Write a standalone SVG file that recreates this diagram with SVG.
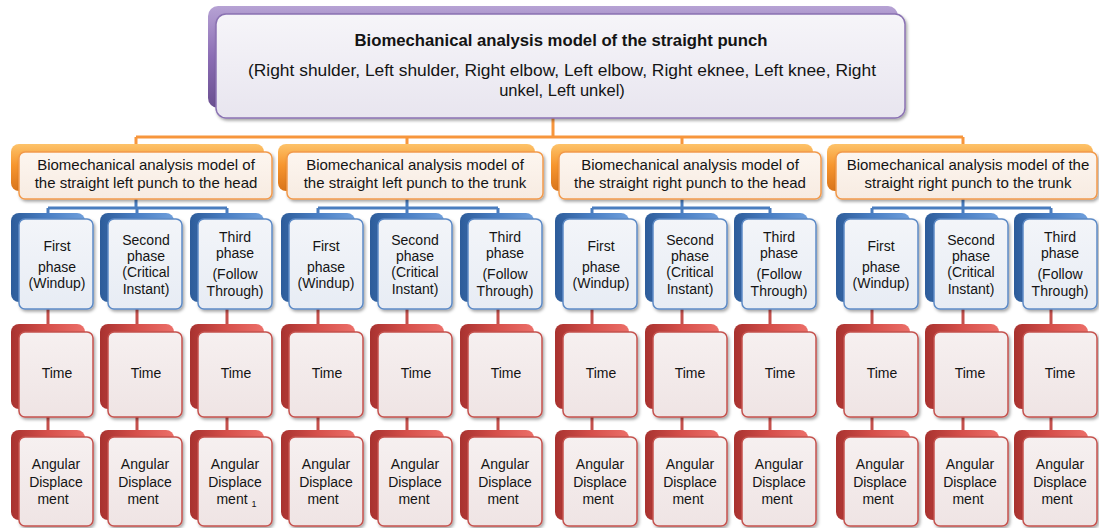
<svg xmlns="http://www.w3.org/2000/svg" width="1099" height="528" viewBox="0 0 1099 528">
<defs>
<linearGradient id="gPur" x1="0" y1="0" x2="0" y2="1"><stop offset="0" stop-color="#b6a2d4"/><stop offset="0.5" stop-color="#8b6db4"/><stop offset="1" stop-color="#6a4f90"/></linearGradient>
<linearGradient id="gOr" x1="0" y1="0" x2="0" y2="1"><stop offset="0" stop-color="#fdc36a"/><stop offset="0.45" stop-color="#f7962f"/><stop offset="1" stop-color="#d9741a"/></linearGradient>
<linearGradient id="gBl" x1="0" y1="0" x2="1" y2="0"><stop offset="0" stop-color="#2d5c9a"/><stop offset="0.5" stop-color="#4a7fc4"/><stop offset="1" stop-color="#6f9fdc"/></linearGradient>
<linearGradient id="gRd" x1="0" y1="0" x2="1" y2="0"><stop offset="0" stop-color="#a8322f"/><stop offset="0.5" stop-color="#d6504b"/><stop offset="1" stop-color="#ec6f69"/></linearGradient>
<linearGradient id="fPur" x1="0" y1="0" x2="0" y2="1"><stop offset="0" stop-color="#f6f5f9"/><stop offset="1" stop-color="#e8e5ef"/></linearGradient>
<linearGradient id="fOr" x1="0" y1="0" x2="0" y2="1"><stop offset="0" stop-color="#fdf6f0"/><stop offset="1" stop-color="#f7ebe1"/></linearGradient>
<linearGradient id="fBl" x1="0" y1="0" x2="0" y2="1"><stop offset="0" stop-color="#f3f5f9"/><stop offset="1" stop-color="#e7ecf4"/></linearGradient>
<linearGradient id="fRd" x1="0" y1="0" x2="0" y2="1"><stop offset="0" stop-color="#f6f0f0"/><stop offset="1" stop-color="#efe4e4"/></linearGradient>
<filter id="sh" x="-10%" y="-10%" width="130%" height="130%"><feDropShadow dx="1.5" dy="2" stdDeviation="1.5" flood-color="#000" flood-opacity="0.35"/></filter>
</defs>
<style>
text{font-family:"Liberation Sans",Arial,sans-serif;fill:#141414;text-anchor:middle}
.t{font-size:14px}
.l2{font-size:15px}
.ttl{font-size:16px;font-weight:bold}
.sub{font-size:16.5px}
.bp{fill:url(#gPur)}
.bo{fill:url(#gOr)}
.bb{fill:url(#gBl)}
.br{fill:url(#gRd)}
.fp{fill:url(#fPur);stroke:#8a72b2;stroke-width:1.5;filter:url(#sh)}
.fo{fill:url(#fOr);stroke:#f29a4c;stroke-width:1.5;filter:url(#sh)}
.fb{fill:url(#fBl);stroke:#5d8ac6;stroke-width:1.5;filter:url(#sh)}
.fr{fill:url(#fRd);stroke:#c5524e;stroke-width:1.5;filter:url(#sh)}
.co{stroke:#f7963c;stroke-width:3;fill:none}
.cb{stroke:#4a7dbf;stroke-width:3;fill:none}
.cr{stroke:#c4504c;stroke-width:3;fill:none}
</style>

<g id="connectors">
<path class="co" d="M553,118V137M136,137H963M136,137V146M407,137V146M682,137V146M963,137V146"/>
<path class="cb" d="M136,199V208M48,208H227M48,208V215M137,208V215M227,208V215"/>
<path class="cb" d="M407,199V208M318,208H498M318,208V215M407,208V215M498,208V215"/>
<path class="cb" d="M682,199V208M592,208H770M592,208V215M682,208V215M770,208V215"/>
<path class="cb" d="M963,199V208M872,208H1051M872,208V215M963,208V215M1051,208V215"/>
<path class="cr" d="M48,309V326M137,309V326M227,309V326M318,309V326M407,309V326M498,309V326M592,309V326M682,309V326M770,309V326M872,309V326M963,309V326M1051,309V326"/>
<path class="cr" d="M48,417V432M137,417V432M227,417V432M318,417V432M407,417V432M498,417V432M592,417V432M682,417V432M770,417V432M872,417V432M963,417V432M1051,417V432"/>
</g>

<g id="root">
<rect class="bp" x="208" y="6" width="690" height="102" rx="10"/>
<rect class="fp" x="216" y="14" width="689" height="104" rx="10"/>
<text class="ttl" x="561" y="46" textLength="413" lengthAdjust="spacingAndGlyphs">Biomechanical analysis model of the straight punch</text>
<text class="sub" x="562" y="76" textLength="628" lengthAdjust="spacingAndGlyphs">(Right shulder, Left shulder, Right elbow, Left elbow, Right eknee, Left knee, Right</text>
<text class="sub" x="562" y="96">unkel, Left unkel)</text>
</g>

<g id="model-left-head">
<rect class="bo" x="11" y="144" width="253" height="47" rx="8"/>
<rect class="fo" x="19" y="152" width="253" height="47" rx="6"/>
<text class="l2" x="146" y="170">Biomechanical analysis model of</text>
<text class="l2" x="146" y="188">the straight left punch to the head</text>
</g>
<g id="model-left-trunk">
<rect class="bo" x="278" y="144" width="257" height="47" rx="8"/>
<rect class="fo" x="287" y="152" width="256" height="47" rx="6"/>
<text class="l2" x="415" y="170">Biomechanical analysis model of</text>
<text class="l2" x="415" y="188">the straight left punch to the trunk</text>
</g>
<g id="model-right-head">
<rect class="bo" x="551" y="144" width="262" height="47" rx="8"/>
<rect class="fo" x="559" y="152" width="262" height="47" rx="6"/>
<text class="l2" x="690" y="170">Biomechanical analysis model of</text>
<text class="l2" x="690" y="188">the straight right punch to the head</text>
</g>
<g id="model-right-trunk">
<rect class="bo" x="827" y="144" width="266" height="47" rx="8"/>
<rect class="fo" x="836" y="152" width="261" height="47" rx="6"/>
<text class="l2" x="968" y="170">Biomechanical analysis model of the</text>
<text class="l2" x="968" y="188">straight right punch to the trunk</text>
</g>

<!-- phases -->
<g id="phase1-g1"><rect class="bb" x="11" y="213" width="74" height="89" rx="8"/><rect class="fb" x="19" y="219" width="74" height="90" rx="6"/><text class="t" x="57" y="251">First</text><text class="t" x="57" y="272">phase</text><text class="t" x="57" y="288">(Windup)</text></g>
<g id="phase2-g1"><rect class="bb" x="100" y="213" width="74" height="89" rx="8"/><rect class="fb" x="108" y="219" width="74" height="90" rx="6"/><text class="t" x="146" y="245">Second</text><text class="t" x="146" y="261">phase</text><text class="t" x="146" y="277">(Critical</text><text class="t" x="146" y="294">Instant)</text></g>
<g id="phase3-g1"><rect class="bb" x="190" y="213" width="74" height="89" rx="8"/><rect class="fb" x="198" y="219" width="74" height="90" rx="6"/><text class="t" x="235" y="242">Third</text><text class="t" x="235" y="258">phase</text><text class="t" x="235" y="279">(Follow</text><text class="t" x="235" y="296">Through)</text></g>

<g id="phase1-g2"><rect class="bb" x="281" y="213" width="74" height="89" rx="8"/><rect class="fb" x="289" y="219" width="74" height="90" rx="6"/><text class="t" x="326" y="251">First</text><text class="t" x="326" y="272">phase</text><text class="t" x="326" y="288">(Windup)</text></g>
<g id="phase2-g2"><rect class="bb" x="370" y="213" width="74" height="89" rx="8"/><rect class="fb" x="378" y="219" width="74" height="90" rx="6"/><text class="t" x="415" y="245">Second</text><text class="t" x="415" y="261">phase</text><text class="t" x="415" y="277">(Critical</text><text class="t" x="415" y="294">Instant)</text></g>
<g id="phase3-g2"><rect class="bb" x="460" y="213" width="74" height="89" rx="8"/><rect class="fb" x="468" y="219" width="74" height="90" rx="6"/><text class="t" x="505" y="242">Third</text><text class="t" x="505" y="258">phase</text><text class="t" x="505" y="279">(Follow</text><text class="t" x="505" y="296">Through)</text></g>

<g id="phase1-g3"><rect class="bb" x="555" y="213" width="74" height="89" rx="8"/><rect class="fb" x="563" y="219" width="74" height="90" rx="6"/><text class="t" x="601" y="251">First</text><text class="t" x="601" y="272">phase</text><text class="t" x="601" y="288">(Windup)</text></g>
<g id="phase2-g3"><rect class="bb" x="645" y="213" width="74" height="89" rx="8"/><rect class="fb" x="653" y="219" width="74" height="90" rx="6"/><text class="t" x="690" y="245">Second</text><text class="t" x="690" y="261">phase</text><text class="t" x="690" y="277">(Critical</text><text class="t" x="690" y="294">Instant)</text></g>
<g id="phase3-g3"><rect class="bb" x="734" y="213" width="74" height="89" rx="8"/><rect class="fb" x="742" y="219" width="74" height="90" rx="6"/><text class="t" x="779" y="242">Third</text><text class="t" x="779" y="258">phase</text><text class="t" x="779" y="279">(Follow</text><text class="t" x="779" y="296">Through)</text></g>

<g id="phase1-g4"><rect class="bb" x="836" y="213" width="74" height="89" rx="8"/><rect class="fb" x="844" y="219" width="74" height="90" rx="6"/><text class="t" x="881" y="251">First</text><text class="t" x="881" y="272">phase</text><text class="t" x="881" y="288">(Windup)</text></g>
<g id="phase2-g4"><rect class="bb" x="925" y="213" width="74" height="89" rx="8"/><rect class="fb" x="934" y="219" width="74" height="90" rx="6"/><text class="t" x="971" y="245">Second</text><text class="t" x="971" y="261">phase</text><text class="t" x="971" y="277">(Critical</text><text class="t" x="971" y="294">Instant)</text></g>
<g id="phase3-g4"><rect class="bb" x="1014" y="213" width="74" height="89" rx="8"/><rect class="fb" x="1023" y="219" width="74" height="90" rx="6"/><text class="t" x="1060" y="242">Third</text><text class="t" x="1060" y="258">phase</text><text class="t" x="1060" y="279">(Follow</text><text class="t" x="1060" y="296">Through)</text></g>

<!-- time -->
<g id="time-1"><rect class="br" x="11" y="324" width="74" height="85" rx="8"/><rect class="fr" x="19" y="332" width="74" height="85" rx="6"/><text class="t" x="57" y="378">Time</text></g>
<g id="time-2"><rect class="br" x="100" y="324" width="74" height="85" rx="8"/><rect class="fr" x="108" y="332" width="74" height="85" rx="6"/><text class="t" x="146" y="378">Time</text></g>
<g id="time-3"><rect class="br" x="190" y="324" width="74" height="85" rx="8"/><rect class="fr" x="198" y="332" width="74" height="85" rx="6"/><text class="t" x="236" y="378">Time</text></g>
<g id="time-4"><rect class="br" x="281" y="324" width="74" height="85" rx="8"/><rect class="fr" x="289" y="332" width="74" height="85" rx="6"/><text class="t" x="327" y="378">Time</text></g>
<g id="time-5"><rect class="br" x="370" y="324" width="74" height="85" rx="8"/><rect class="fr" x="378" y="332" width="74" height="85" rx="6"/><text class="t" x="416" y="378">Time</text></g>
<g id="time-6"><rect class="br" x="460" y="324" width="74" height="85" rx="8"/><rect class="fr" x="468" y="332" width="74" height="85" rx="6"/><text class="t" x="506" y="378">Time</text></g>
<g id="time-7"><rect class="br" x="555" y="324" width="74" height="85" rx="8"/><rect class="fr" x="563" y="332" width="74" height="85" rx="6"/><text class="t" x="601" y="378">Time</text></g>
<g id="time-8"><rect class="br" x="645" y="324" width="74" height="85" rx="8"/><rect class="fr" x="653" y="332" width="74" height="85" rx="6"/><text class="t" x="690" y="378">Time</text></g>
<g id="time-9"><rect class="br" x="734" y="324" width="74" height="85" rx="8"/><rect class="fr" x="742" y="332" width="74" height="85" rx="6"/><text class="t" x="780" y="378">Time</text></g>
<g id="time-10"><rect class="br" x="836" y="324" width="74" height="85" rx="8"/><rect class="fr" x="844" y="332" width="74" height="85" rx="6"/><text class="t" x="882" y="378">Time</text></g>
<g id="time-11"><rect class="br" x="925" y="324" width="74" height="85" rx="8"/><rect class="fr" x="934" y="332" width="74" height="85" rx="6"/><text class="t" x="970" y="378">Time</text></g>
<g id="time-12"><rect class="br" x="1014" y="324" width="74" height="85" rx="8"/><rect class="fr" x="1023" y="332" width="74" height="85" rx="6"/><text class="t" x="1060" y="378">Time</text></g>

<!-- angular displacement -->
<g id="ang-1"><rect class="br" x="11" y="430" width="74" height="90" rx="8"/><rect class="fr" x="19" y="437" width="74" height="89" rx="6"/><text class="t" x="56" y="469">Angular</text><text class="t" x="56" y="487">Displace</text><text class="t" x="53" y="504">ment</text></g>
<g id="ang-2"><rect class="br" x="100" y="430" width="74" height="90" rx="8"/><rect class="fr" x="108" y="437" width="74" height="89" rx="6"/><text class="t" x="145" y="469">Angular</text><text class="t" x="145" y="487">Displace</text><text class="t" x="143" y="504">ment</text></g>
<g id="ang-3"><rect class="br" x="190" y="430" width="74" height="90" rx="8"/><rect class="fr" x="198" y="437" width="74" height="89" rx="6"/><text class="t" x="235" y="469">Angular</text><text class="t" x="235" y="487">Displace</text><text class="t" x="232" y="504">ment</text><text x="254" y="507" style="font-size:9px">1</text></g>
<g id="ang-4"><rect class="br" x="281" y="430" width="74" height="90" rx="8"/><rect class="fr" x="289" y="437" width="74" height="89" rx="6"/><text class="t" x="326" y="469">Angular</text><text class="t" x="326" y="487">Displace</text><text class="t" x="323" y="504">ment</text></g>
<g id="ang-5"><rect class="br" x="370" y="430" width="74" height="90" rx="8"/><rect class="fr" x="378" y="437" width="74" height="89" rx="6"/><text class="t" x="415" y="469">Angular</text><text class="t" x="415" y="487">Displace</text><text class="t" x="414" y="504">ment</text></g>
<g id="ang-6"><rect class="br" x="460" y="430" width="74" height="90" rx="8"/><rect class="fr" x="468" y="437" width="74" height="89" rx="6"/><text class="t" x="505" y="469">Angular</text><text class="t" x="505" y="487">Displace</text><text class="t" x="503" y="504">ment</text></g>
<g id="ang-7"><rect class="br" x="555" y="430" width="74" height="90" rx="8"/><rect class="fr" x="563" y="437" width="74" height="89" rx="6"/><text class="t" x="600" y="469">Angular</text><text class="t" x="600" y="487">Displace</text><text class="t" x="598" y="504">ment</text></g>
<g id="ang-8"><rect class="br" x="645" y="430" width="74" height="90" rx="8"/><rect class="fr" x="653" y="437" width="74" height="89" rx="6"/><text class="t" x="690" y="469">Angular</text><text class="t" x="690" y="487">Displace</text><text class="t" x="688" y="504">ment</text></g>
<g id="ang-9"><rect class="br" x="734" y="430" width="74" height="90" rx="8"/><rect class="fr" x="742" y="437" width="74" height="89" rx="6"/><text class="t" x="779" y="469">Angular</text><text class="t" x="779" y="487">Displace</text><text class="t" x="777" y="504">ment</text></g>
<g id="ang-10"><rect class="br" x="836" y="430" width="74" height="90" rx="8"/><rect class="fr" x="844" y="437" width="74" height="89" rx="6"/><text class="t" x="880" y="469">Angular</text><text class="t" x="880" y="487">Displace</text><text class="t" x="878" y="504">ment</text></g>
<g id="ang-11"><rect class="br" x="925" y="430" width="74" height="90" rx="8"/><rect class="fr" x="934" y="437" width="74" height="89" rx="6"/><text class="t" x="970" y="469">Angular</text><text class="t" x="970" y="487">Displace</text><text class="t" x="968" y="504">ment</text></g>
<g id="ang-12"><rect class="br" x="1014" y="430" width="74" height="90" rx="8"/><rect class="fr" x="1023" y="437" width="74" height="89" rx="6"/><text class="t" x="1060" y="469">Angular</text><text class="t" x="1060" y="487">Displace</text><text class="t" x="1057" y="504">ment</text></g>
</svg>
